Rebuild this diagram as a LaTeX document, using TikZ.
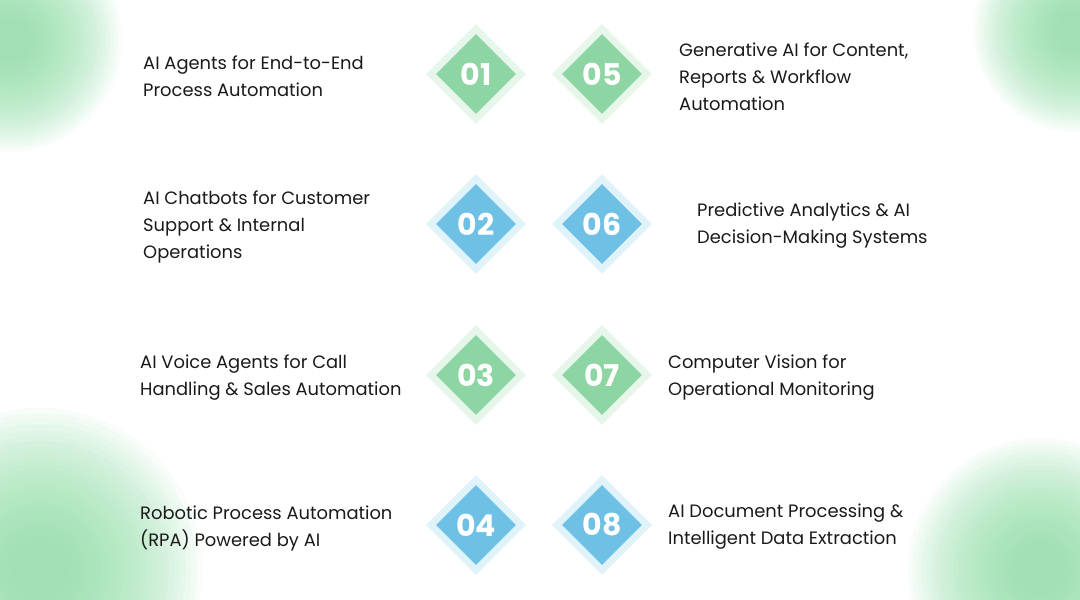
\documentclass[tikz,border=0pt]{standalone}
\usepackage{fontspec}
\setmainfont{Poppins}
\usetikzlibrary{shapes.geometric}
\definecolor{gin}{HTML}{8DD5A2}\definecolor{gout}{HTML}{E6F6EA}
\definecolor{bin}{HTML}{6EC1E4}\definecolor{bout}{HTML}{E0F2FA}
\definecolor{blob}{HTML}{8EE0A6}\definecolor{txt}{HTML}{1A1A1A}
\tikzset{
 dout/.style={diamond,minimum size=100pt,inner sep=0,fill=#1},
 din/.style={diamond,minimum size=80pt,inner sep=0,fill=#1,text=white,font=\fontsize{30}{30}\selectfont\bfseries},
 lbl/.style={anchor=west,align=left,text=txt,font=\fontsize{17.9}{27}\selectfont,inner sep=0}
}
\newcommand{\myblob}[3]{\foreach \r in {1,...,25}{\fill[blob,opacity=0.06] (#1,#2) circle ({#3*(1.05-\r*0.035)});}}
\begin{document}
\begin{tikzpicture}[x=1pt,y=-1pt]
\useasboundingbox (0,0) rectangle (1080,600);
\fill[white] (0,0) rectangle (1080,600);
\begin{scope}
\clip (0,0) rectangle (1080,600);
\myblob{10}{40}{110}
\myblob{1075}{30}{100}
\myblob{40}{570}{160}
\myblob{1040}{570}{130}
\end{scope}
\foreach \n/\x/\y/\c in {01/476/74/g,02/476/224/b,03/476/375/g,04/476/525/b,05/602/74/g,06/602/224/b,07/602/375/g,08/602/525/b}{
 \node[dout=\c out] (o\n) at (\x,\y) {};
 \node[din=\c in] (d\n) at (\x,\y) {\n};
}
\node[lbl] (t1) at (143,76) {AI Agents for End-to-End\\Process Automation};
\node[lbl] (t2) at (143,227) {AI Chatbots for Customer\\Support \& Internal\\Operations};
\node[lbl] (t3) at (140,378) {AI Voice Agents for Call\\Handling \& Sales Automation};
\node[lbl] (t4) at (140,528) {Robotic Process Automation\\(RPA) Powered by AI};
\node[lbl] (t5) at (679,77) {Generative AI for Content,\\Reports \& Workflow\\Automation};
\node[lbl] (t6) at (697,226) {Predictive Analytics \& AI\\Decision-Making Systems};
\node[lbl] (t7) at (668,378) {Computer Vision for\\Operational Monitoring};
\node[lbl] (t8) at (668,527) {AI Document Processing \&\\Intelligent Data Extraction};
\end{tikzpicture}
\end{document}
